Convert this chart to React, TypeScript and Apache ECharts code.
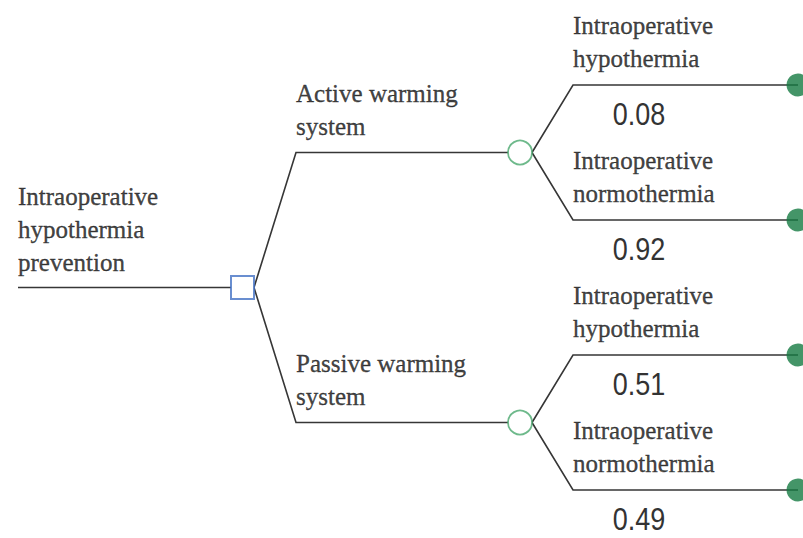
import React, { useEffect, useRef } from "react";
import * as echarts from "echarts";

// ---- Data ----
const rootLabel = ["Intraoperative", "hypothermia", "prevention"];
const strategies = ["Active warming\nsystem", "Passive warming\nsystem"];
const outcomes = ["Intraoperative\nhypothermia", "Intraoperative\nnormothermia"];
const probabilities = [
  [0.08, 0.92],
  [0.51, 0.49],
];

// ---- Layout (stage x positions, leaf rows) ----
const W = 803;
const H = 538;
const stageX = { rootStart: 18, decision: 242.5, elbow1: 296, chance: 520, elbow2: 573, terminal: 798 };
const leafTop = 85;
const leafStep = 135;
const squareSize = 23;
const chanceSize = 24;
const terminalSize = 23;

export default function App() {
  const ref = useRef<HTMLDivElement>(null);

  useEffect(() => {
    document.body.style.margin = "0";
    if (!ref.current) return;
    const chart = echarts.init(ref.current, undefined, { renderer: "svg" });

    // compute tree positions
    const leafY: number[][] = probabilities.map((row, i) =>
      row.map((_, j) => leafTop + (i * row.length + j) * leafStep)
    );
    const chanceY = leafY.map((ys) => ys.reduce((a, b) => a + b, 0) / ys.length);
    const decisionY = chanceY.reduce((a, b) => a + b, 0) / chanceY.length;

    const edges: any[] = [];
    edges.push({ coords: [[stageX.rootStart, decisionY], [stageX.decision - squareSize / 2, decisionY]] });
    chanceY.forEach((cy, i) => {
      edges.push({
        coords: [
          [stageX.decision + squareSize / 2, decisionY],
          [stageX.elbow1, cy],
          [stageX.chance - chanceSize / 2, cy],
        ],
      });
      leafY[i].forEach((ly) => {
        edges.push({
          coords: [
            [stageX.chance + chanceSize / 2, cy],
            [stageX.elbow2, ly],
            [stageX.terminal, ly],
          ],
        });
      });
    });

    const textLabels: any[] = [];
    textLabels.push({ value: [stageX.rootStart, decisionY - 58.5], name: rootLabel.join("\n") });
    chanceY.forEach((cy, i) => {
      textLabels.push({ value: [stageX.elbow1, cy - 42.5], name: strategies[i] });
      leafY[i].forEach((ly, j) => {
        textLabels.push({ value: [stageX.elbow2, ly - 43.5], name: outcomes[j] });
      });
    });

    const probData: any[] = [];
    leafY.forEach((ys, i) =>
      ys.forEach((ly, j) => {
        probData.push([639, ly + 28.5, probabilities[i][j]]);
      })
    );

    const terminals: any[] = [];
    leafY.forEach((ys) => ys.forEach((ly) => terminals.push([stageX.terminal, ly])));

    chart.setOption({
      animation: false,
      grid: { left: 0, right: 0, top: 0, bottom: 0 },
      xAxis: { type: "value", min: 0, max: W, show: false },
      yAxis: { type: "value", min: 0, max: H, inverse: true, show: false },
      series: [
        {
          type: "lines",
          coordinateSystem: "cartesian2d",
          polyline: true,
          silent: true,
          z: 1,
          lineStyle: { color: "#363636", width: 1.6, opacity: 1 },
          data: edges,
        },
        {
          type: "scatter",
          z: 3,
          silent: true,
          symbol: "rect",
          symbolSize: squareSize,
          itemStyle: { color: "#ffffff", borderColor: "#4472C4", borderWidth: 2 },
          data: [[stageX.decision, decisionY]],
        },
        {
          type: "scatter",
          z: 3,
          silent: true,
          symbol: "circle",
          symbolSize: chanceSize,
          itemStyle: { color: "#ffffff", borderColor: "#4aa86e", borderWidth: 1.8 },
          data: chanceY.map((cy) => [stageX.chance, cy]),
        },
        {
          type: "scatter",
          z: 3,
          silent: true,
          symbol: "circle",
          symbolSize: terminalSize,
          itemStyle: { color: "#157a42" },
          data: terminals,
        },
        {
          type: "scatter",
          z: 4,
          silent: true,
          symbolSize: 1,
          itemStyle: { color: "transparent" },
          label: {
            show: true,
            position: "inside",
            align: "left",
            verticalAlign: "middle",
            formatter: (p: any) => p.name,
            fontFamily: "'Liberation Serif', 'Times New Roman', serif",
            fontSize: 25,
            lineHeight: 33,
            color: "#111111",
            textBorderColor: "#111111",
            textBorderWidth: 0.35,
          },
          data: textLabels,
        },
        {
          type: "custom",
          z: 4,
          silent: true,
          renderItem: (params: any, api: any) => {
            const pt = api.coord([api.value(0), api.value(1)]);
            return {
              type: "text",
              x: pt[0],
              y: pt[1],
              scaleY: 1.18,
              style: {
                text: Number(api.value(2)).toFixed(2),
                fontFamily: "'Liberation Sans', Arial, sans-serif",
                fontSize: 27,
                fill: "#333333",
                align: "center",
                verticalAlign: "middle",
              },
            };
          },
          data: probData,
        },
      ],
    });

    return () => chart.dispose();
  }, []);

  return <div ref={ref} style={{ width: W, height: H }} />;
}
